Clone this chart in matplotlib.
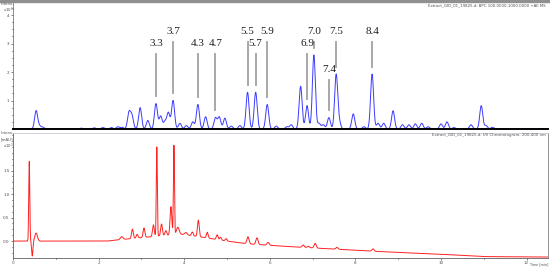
import numpy as np
import matplotlib.pyplot as plt
from matplotlib.ticker import MultipleLocator

# BPC trace (top): retention time [min], height [x10^6], width [min]
bpc_rt = [0.54, 0.62, 0.70, 1.60, 1.90, 2.10, 2.30, 2.45, 2.55, 2.71, 2.78, 2.97, 3.15,
          3.34, 3.45, 3.55, 3.63, 3.74, 3.90, 4.05, 4.20, 4.32, 4.50, 4.73, 4.82, 4.95,
          5.10, 5.30, 5.48, 5.67, 5.94, 6.15, 6.40, 6.50, 6.72, 6.87, 7.03, 7.15, 7.25,
          7.38, 7.55, 7.62, 7.95, 8.20, 8.39, 8.53, 8.66, 8.88, 9.10, 9.25, 9.40, 9.55,
          9.70, 10.00, 10.14, 10.30, 10.70, 10.94, 11.05, 11.20]
bpc_h = [0.64, 0.10, 0.06, 0.03, 0.04, 0.05, 0.05, 0.08, 0.06, 0.57, 0.45, 0.75, 0.30,
         0.89, 0.45, 0.25, 0.57, 1.00, 0.20, 0.12, 0.25, 0.86, 0.43, 0.39, 0.42, 0.38,
         0.10, 0.12, 1.29, 1.29, 0.86, 0.10, 0.08, 0.15, 1.50, 0.82, 2.60, 0.20, 0.15,
         0.40, 1.90, 0.25, 0.53, 0.08, 1.93, 0.20, 0.20, 0.64, 0.15, 0.15, 0.18, 0.20,
         0.08, 0.18, 0.25, 0.05, 0.15, 0.82, 0.12, 0.06]
bpc_w = 0.035

# labelled peaks
pk_labels = ["3.3", "3.7", "4.3", "4.7", "5.5", "5.7", "5.9", "6.9", "7.0", "7.4", "7.5", "8.4"]
pk_rt = [3.34, 3.74, 4.32, 4.73, 5.48, 5.67, 5.94, 6.87, 7.03, 7.38, 7.55, 8.39]
pk_level = [3.0, 3.43, 3.0, 3.0, 3.43, 3.0, 3.43, 3.0, 3.43, 2.1, 3.43, 3.43]

# UV trace (bottom): baseline drift points and peaks [x10^3 mAU]
uv_base_t = [0.0, 2.2, 2.5, 3.9, 4.3, 5.0, 5.5, 6.5, 8.5, 10.0, 11.0, 12.6]
uv_base_v = [0.0, 0.0, 0.03, 0.15, 0.10, 0.0, -0.06, -0.12, -0.22, -0.28, -0.33, -0.34]
uv_rt = [0.38, 0.45, 0.54, 2.54, 2.79, 2.90, 3.06, 3.28, 3.36, 3.47, 3.57, 3.69, 3.76,
         3.85, 4.04, 4.19, 4.33, 4.54, 4.77, 4.85, 4.98, 5.49, 5.70, 5.96, 6.78, 6.90,
         7.06, 7.57, 8.41]
uv_h = [1.70, -0.32, 0.17, 0.06, 0.20, 0.08, 0.20, 0.25, 1.90, 0.25, 0.10, 0.60, 1.90,
        0.15, 0.05, 0.08, 0.35, 0.12, 0.10, 0.06, 0.05, 0.15, 0.14, 0.06, 0.05, 0.03,
        0.10, 0.04, 0.05]
uv_w = [0.012, 0.015, 0.03, 0.03, 0.02, 0.02, 0.02, 0.02, 0.012, 0.02, 0.02, 0.02, 0.012,
        0.03, 0.03, 0.02, 0.02, 0.02, 0.02, 0.02, 0.02, 0.025, 0.025, 0.025, 0.025, 0.025,
        0.025, 0.025, 0.025]


def trace(t, rt, h, w):
  w = np.broadcast_to(np.asarray(w, dtype=float), (len(rt),))
  y = np.zeros_like(t)
  for r, a, s in zip(rt, h, w):
    y += a*np.exp(-0.5*((t-r)/s)**2)
  return y


t = np.linspace(0, 12.55, 6000)
bpc = trace(t, bpc_rt, bpc_h, bpc_w)
uv = np.interp(t, uv_base_t, uv_base_v) + trace(t, uv_rt, uv_h, uv_w)

fig = plt.figure(figsize=(5.5, 2.69), dpi=100)
W, H = 550., 269.
axT = fig.add_axes([13/W, 1-129/H, 535/W, 127/H])
axB = fig.add_axes([13/W, 1-258/H, 535/W, 125/H])
txt = dict(fontsize=2.8, color='#505050')

# top bar
fig.patches.append(plt.Rectangle((0, 1-2/H), 1, 2/H, transform=fig.transFigure,
                                 color='#909090', zorder=0))

# --- top panel
axT.plot(t, bpc, color='#3b3bff', lw=0.7)
axT.set_xlim(0, 12.5)
axT.set_ylim(0, 4.46)
for s in ['top', 'right']:
  axT.spines[s].set_visible(False)
axT.spines['bottom'].set_linewidth(1.4)
axT.spines['left'].set_color('#606060')
axT.spines['left'].set_linewidth(0.5)
axT.set_xticks([])
axT.set_yticks([1, 2, 3, 4])
axT.yaxis.set_minor_locator(MultipleLocator(0.25))
axT.tick_params(axis='y', labelsize=3, length=1.5, width=0.5, pad=1, colors='#505050')
axT.tick_params(axis='y', which='minor', length=1, width=0.5)

for lab, rt, lev in zip(pk_labels, pk_rt, pk_level):
  ybot = np.interp(rt, t, bpc) + 0.25
  axT.plot([rt, rt], [ybot, lev-0.37], color='#a0a0a0', lw=1.3)
  axT.text(rt, lev, lab, ha='center', va='center', fontsize=8,
           family='Liberation Serif', color='#202020')

fig.text(546/W, 1-5/H, 'Extract_GID_01_19825.d: BPC 100.0000-1000.0000 +All MS',
         ha='right', va='center', **txt)
fig.text(1/W, 1-4/H, 'Intens.', ha='left', va='center', **txt)
fig.text(3/W, 1-10/H, r'x10$^6$', ha='left', va='center', **txt)

# --- bottom panel
axB.plot(t, uv, color='#ff2020', lw=0.7)
axB.set_xlim(0, 12.5)
axB.set_ylim(-0.36, 2.3)
axB.spines['top'].set_color('#c8c8d8')
axB.spines['right'].set_color('#808080')
axB.spines['left'].set_color('#606060')
axB.spines['bottom'].set_color('#606060')
for s in axB.spines.values():
  s.set_linewidth(0.6)
axB.xaxis.set_major_locator(MultipleLocator(2))
axB.xaxis.set_minor_locator(MultipleLocator(1))
axB.set_yticks([0.0, 0.5, 1.0, 1.5])
axB.set_yticklabels(['0.0', '0.5', '1.0', '1.5'])
axB.yaxis.set_minor_locator(MultipleLocator(0.125))
axB.tick_params(labelsize=3, length=1.5, width=0.5, pad=1, colors='#505050')
axB.tick_params(which='minor', length=1, width=0.5)

fig.text(546/W, 1-135/H, 'Extract_GID_01_19825.d: UV Chromatogram, 200-400 nm',
         ha='right', va='center', **txt)
fig.text(1/W, 1-132.5/H, 'Intens.', ha='left', va='center', **txt)
fig.text(1/W, 1-139/H, '[mAU]', ha='left', va='center', **txt)
fig.text(3/W, 1-146/H, r'x10$^3$', ha='left', va='center', **txt)
fig.text(548/W, 1-264/H, 'Time [min]', ha='right', va='center', fontsize=2.4, color='#505050')

fig.savefig('out.png', dpi=100)
